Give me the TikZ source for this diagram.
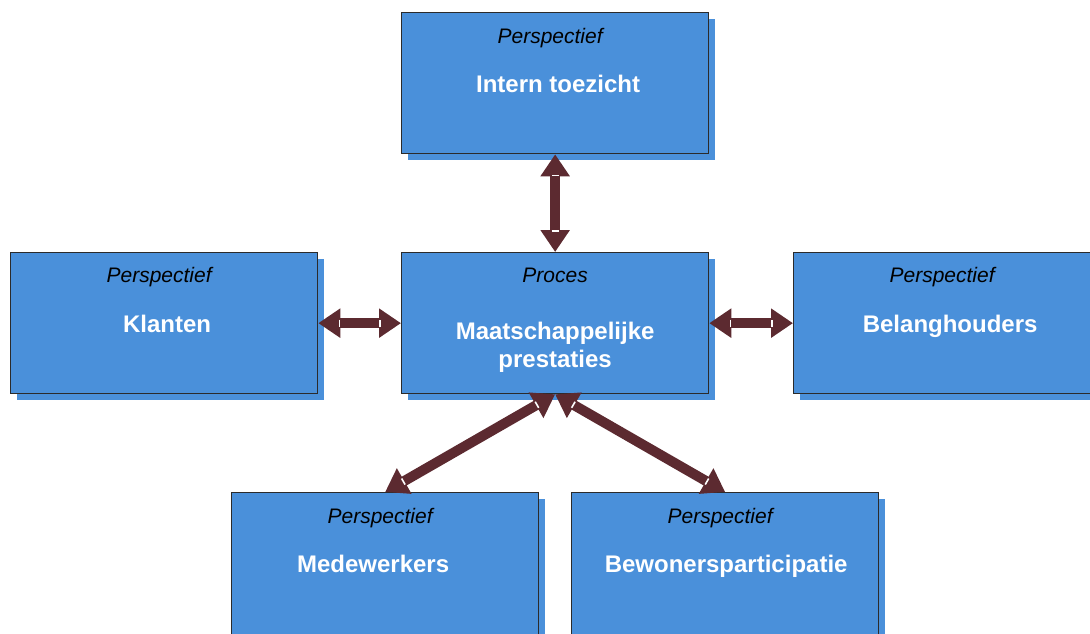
\documentclass[tikz,border=0pt]{standalone}
\usepackage{fontspec}
\setmainfont{Liberation Sans}
\usetikzlibrary{arrows.meta,calc,shadows}
\definecolor{boxblue}{HTML}{4A90DA}
\definecolor{arrowred}{HTML}{5C2A30}
\definecolor{boxline}{HTML}{2B2B2B}
\tikzset{
  box/.style={draw=boxline, line width=1.3pt, fill=boxblue, rectangle, anchor=north west,
    minimum width=307pt, minimum height=141pt, inner sep=0pt,
    drop shadow={shadow xshift=6pt, shadow yshift=-6pt, fill=boxblue, opacity=1}},
  tallbox/.style={box, minimum height=160pt},
  persp/.style={anchor=base, inner sep=0pt, font=\fontsize{21}{25}\selectfont\itshape, text=black},
  ttl/.style={anchor=base, inner sep=0pt, font=\fontsize{24}{28}\selectfont\bfseries, text=white},
  arr/.style={draw=arrowred, line width=10pt,
    {Triangle[length=22pt,width=28pt]}-{Triangle[length=22pt,width=28pt]}},
  whitetick/.style={draw=white, line width=1.6pt}
}
\newcommand\dblarrow[2]{%
  \draw[arr] (#1) -- (#2);
  \draw[whitetick] ($($(#1)!21pt!(#2)$)!3.5pt!90:(#2)$) -- ($($(#1)!21pt!(#2)$)!3.5pt!-90:(#2)$);
  \draw[whitetick] ($($(#2)!21pt!(#1)$)!3.5pt!90:(#1)$) -- ($($(#2)!21pt!(#1)$)!3.5pt!-90:(#1)$);
}
\begin{document}
\begin{tikzpicture}[x=1pt,y=-1pt]
\useasboundingbox (0,0) rectangle (1090,633);
\clip (0,0) rectangle (1090,633);
\fill[white] (0,0) rectangle (1090,633);

\node[box] (top) at (401,12) {};
\node[box] (left) at (10,252) {};
\node[box] (mid) at (401,252) {};
\node[box] (right) at (793,252) {};
\node[tallbox] (bl) at (231,492) {};
\node[tallbox] (br) at (571,492) {};

\node[persp] (topP) at ([xshift=-5pt,yshift=-31pt]top.north) {Perspectief};
\node[ttl] (topT) at ([xshift=3pt,yshift=-80pt]top.north) {Intern toezicht};

\node[persp] (leftP) at ([xshift=-5pt,yshift=-30pt]left.north) {Perspectief};
\node[ttl] (leftT) at ([xshift=3pt,yshift=-80pt]left.north) {Klanten};

\node[persp] (midP) at ([yshift=-30pt]mid.north) {Proces};
\node[ttl] (midT1) at ([yshift=-87pt]mid.north) {Maatschappelijke};
\node[ttl] (midT2) at ([yshift=-115pt]mid.north) {prestaties};

\node[persp] (rightP) at ([xshift=-5pt,yshift=-30pt]right.north) {Perspectief};
\node[ttl] (rightT) at ([xshift=3pt,yshift=-80pt]right.north) {Belanghouders};

\node[persp] (blP) at ([xshift=-5pt,yshift=-31pt]bl.north) {Perspectief};
\node[ttl] (blT) at ([xshift=-12pt,yshift=-80pt]bl.north) {Medewerkers};

\node[persp] (brP) at ([xshift=-5pt,yshift=-31pt]br.north) {Perspectief};
\node[ttl] (brT) at ([xshift=1pt,yshift=-80pt]br.north) {Bewonersparticipatie};

\dblarrow{mid.north}{top.south}
\dblarrow{mid.west}{left.east}
\dblarrow{mid.east}{right.west}
\dblarrow{mid.south}{bl.north}
\dblarrow{mid.south}{br.north}
\end{tikzpicture}
\end{document}
